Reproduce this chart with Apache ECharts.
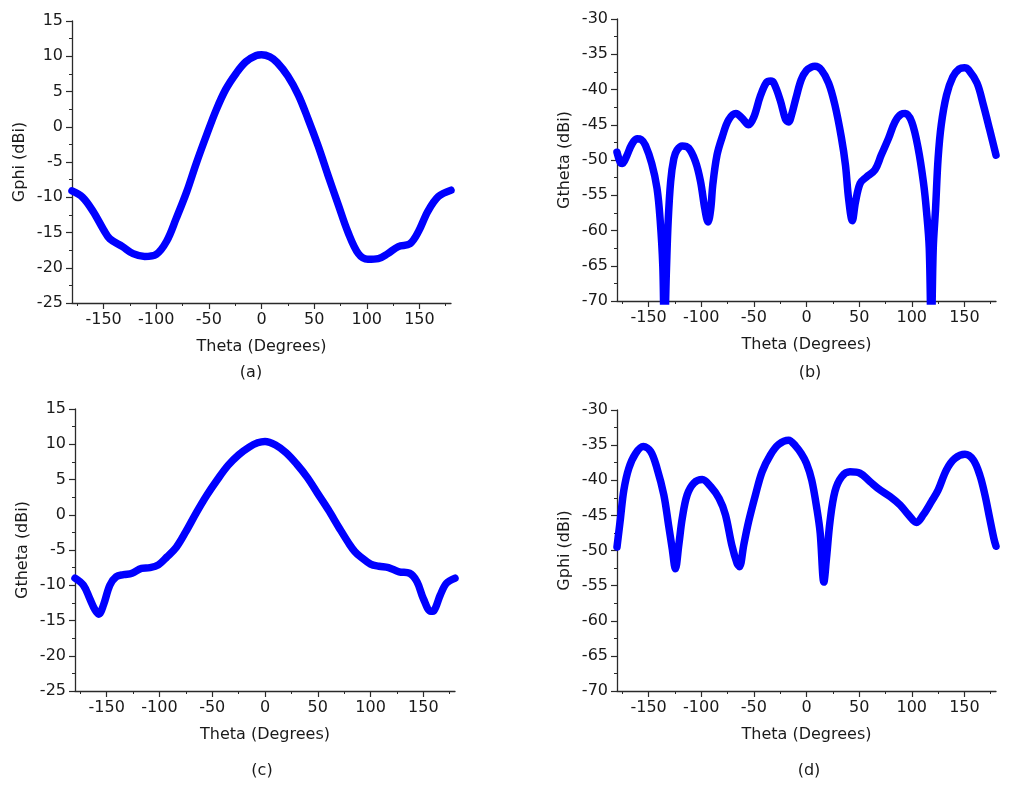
<!DOCTYPE html>
<html>
<head>
<meta charset="utf-8">
<script src="https://cdn.jsdelivr.net/npm/echarts@6/dist/echarts.min.js"></script>
<style>
html,body{margin:0;padding:0;background:#fff;}
#chart{width:1013px;height:785px;}
</style>
</head>
<body>
<div id="chart"></div>
<script>
// ---- Data ----
const xTicks = [-150, -100, -50, 0, 50, 100, 150];
const xMinorTicks = [-175, -125, -75, -25, 25, 75, 125, 175];

// (a) Gphi
const thetaA = [-180,-170,-160,-150,-144,-132,-122,-111,-100,-90,-81,-71,-62,-52,-43,-34,-24,-15,-5,0,8,15,25,35,44,54,63,73,82,92,101,111,120,130,141,149,158,168,180];
const gainA  = [-9.1,-10.0,-12.0,-14.6,-15.9,-17.0,-18.0,-18.4,-18.1,-16.2,-13.0,-9.2,-5.2,-1.1,2.4,5.3,7.6,9.2,10.1,10.2,9.9,9.1,7.2,4.5,1.2,-2.8,-6.8,-11.1,-14.9,-18.0,-18.8,-18.7,-18.0,-17.0,-16.6,-14.9,-12.0,-9.9,-9.0];

// (b) Gtheta
const thetaB = [-180,-177,-175,-171,-166,-161,-157,-153,-147,-142,-139,-136.5,-135,-133,-131.4,-129,-126,-123,-118,-112,-105.5,-100.7,-96.6,-93.5,-91,-89,-85,-80,-74,-67,-61,-55,-50,-44,-38,-34,-31,-25,-20,-17,-14,-10,-5,0,5,8,14,21,27,33,37,40,43.5,46.5,51,57,65,71,78,84,90,94,100,106,111,114,116.6,118.5,120.4,122.6,125,128,133,139,145,150,154,162,168,174,180];
const gainB  = [-48.9,-50.3,-50.5,-49.5,-47.8,-47.0,-47.1,-47.9,-50.5,-54.0,-58.5,-65.0,-75.0,-65.4,-58.7,-53.0,-49.8,-48.6,-48.0,-48.3,-50.2,-53.0,-56.9,-58.8,-57.0,-53.5,-49.3,-46.7,-44.3,-43.4,-44.1,-45.0,-43.9,-41.0,-39.0,-38.8,-39.1,-41.5,-44.2,-44.6,-43.5,-41.2,-38.6,-37.3,-36.8,-36.7,-37.2,-39.1,-42.2,-46.7,-50.7,-55.5,-58.6,-56.0,-53.3,-52.4,-51.4,-49.3,-46.9,-44.6,-43.5,-43.4,-44.6,-48.3,-53.1,-57.3,-62.5,-75.0,-62.5,-56.9,-49.8,-45.0,-40.8,-38.2,-37.1,-36.9,-37.2,-39.1,-42.2,-45.7,-49.3];

// (c) Gtheta
const thetaC = [-180,-172,-166,-161,-157.5,-153,-147,-141,-134,-126,-117,-109,-101,-93,-84,-75,-65,-55,-45,-35,-25,-15,-7,0,10,20,30,40,50,60,70,80,85,90,100,108,117,127,137,144,150,157,160,166,172,180];
const gainC  = [-9.0,-10.0,-11.9,-13.5,-14.1,-12.8,-10.0,-8.8,-8.5,-8.3,-7.6,-7.5,-7.1,-6.0,-4.6,-2.4,0.3,2.8,5.0,7.0,8.5,9.6,10.2,10.4,9.9,8.8,7.2,5.3,3.0,0.7,-1.8,-4.2,-5.2,-5.9,-7.0,-7.3,-7.5,-8.1,-8.3,-9.5,-11.9,-13.7,-13.6,-11.4,-9.7,-9.0];

// (d) Gphi
const thetaD = [-180,-176.7,-173.5,-168.8,-162.4,-155,-148,-142,-135.5,-131,-127.6,-124.5,-121.3,-118,-113.4,-107,-99,-91,-83,-77,-71,-66,-63.7,-59.6,-55,-48.5,-42.2,-34.3,-26.4,-17,-10,-5,0,5,10,13,16.5,19,22.3,27,33.4,41.3,50.8,60.3,70,79.3,88.8,96.7,104.6,111,118.8,125,133,141,150.5,158.4,164.7,169.5,174,178,180];
const gainD  = [-49.5,-45.4,-41.4,-38.3,-36.2,-35.2,-35.9,-38.3,-42.1,-46.4,-49.7,-52.6,-49.2,-45.4,-42.1,-40.4,-39.9,-40.9,-42.6,-44.9,-49.2,-51.8,-52.3,-49.2,-45.9,-42.1,-38.8,-36.4,-34.9,-34.3,-35.2,-36.2,-37.6,-40.0,-44.2,-47.5,-54.5,-51.1,-45.9,-41.6,-39.5,-38.8,-39.0,-40.2,-41.4,-42.3,-43.5,-44.9,-46.0,-44.9,-43.0,-41.4,-38.5,-36.9,-36.3,-37.1,-39.3,-42.1,-45.4,-48.3,-49.4];

const yNames = ['Gphi (dBi)', 'Gtheta (dBi)', 'Gtheta (dBi)', 'Gphi (dBi)'];
const xName = 'Theta (Degrees)';
const panelLabels = ['(a)', '(b)', '(c)', '(d)'];
const yRanges = [[-25, 15], [-70, -30], [-25, 15], [-70, -30]];

// ---- Layout / style ----
const FONT = 'DejaVu Sans';
const AX = '#2a2a2a';
const grids = [
  {left: 72, top: 21, width: 379, height: 282},
  {left: 617, top: 19, width: 379, height: 282},
  {left: 75, top: 409, width: 380, height: 282},
  {left: 617, top: 410, width: 379, height: 281}
];
const labelPos = [[251, 373], [810, 373], [262, 771], [809, 771]];

const thetas = [thetaA, thetaB, thetaC, thetaD];
const gains = [gainA, gainB, gainC, gainD];

const xAxes = [], yAxes = [], series = [], graphics = [];
const txt = {color: '#1a1a1a', fontSize: 16, fontFamily: FONT};

for (let i = 0; i < 4; i++) {
  xAxes.push({
    gridIndex: i, type: 'value', min: -180, max: 180, position: 'bottom',
    axisLine: {show: true, onZero: false, lineStyle: {color: AX, width: 1.3}},
    axisTick: {show: true, customValues: xTicks, length: 6, lineStyle: {color: AX, width: 1.2}},
    axisLabel: Object.assign({show: true, customValues: xTicks, margin: 9}, txt),
    splitLine: {show: false},
    name: xName, nameLocation: 'middle', nameGap: 36,
    nameTextStyle: txt
  });
  yAxes.push({
    gridIndex: i, type: 'value', min: yRanges[i][0], max: yRanges[i][1], interval: 5,
    axisLine: {show: true, onZero: false, lineStyle: {color: AX, width: 1.3}},
    axisTick: {show: true, length: 6, lineStyle: {color: AX, width: 1.2}},
    minorTick: {show: true, splitNumber: 2, length: 3, lineStyle: {color: AX, width: 1}},
    axisLabel: Object.assign({margin: 9}, txt),
    splitLine: {show: false},
    name: yNames[i], nameLocation: 'middle', nameGap: 44, nameRotate: 90,
    nameTextStyle: txt
  });
  series.push({
    type: 'line', xAxisIndex: i, yAxisIndex: i,
    data: thetas[i].map((t, k) => [t, gains[i][k]]),
    showSymbol: false, smooth: 0.35, clip: true,
    lineStyle: {color: '#0000FF', width: 7.5, join: 'round', cap: 'round'},
    itemStyle: {color: '#0000FF'},
    emphasis: {disabled: true}
  });
  graphics.push({
    type: 'text', x: labelPos[i][0], y: labelPos[i][1],
    style: {text: panelLabels[i], fill: '#1a1a1a', font: '16px "' + FONT + '"', align: 'center', verticalAlign: 'middle'}
  });
}
// minor ticks on x axes
for (let i = 0; i < 4; i++) {
  xAxes.push({
    gridIndex: i, type: 'value', min: -180, max: 180, position: 'bottom',
    axisLine: {show: false, onZero: false},
    axisTick: {show: true, customValues: xMinorTicks, length: 3, lineStyle: {color: AX, width: 1}},
    axisLabel: {show: false},
    splitLine: {show: false}
  });
}

const chart = echarts.init(document.getElementById('chart'), null, {renderer: 'canvas'});
chart.setOption({
  animation: false,
  backgroundColor: '#ffffff',
  grid: grids.map(g => Object.assign({containLabel: false}, g)),
  xAxis: xAxes,
  yAxis: yAxes,
  series: series,
  graphic: graphics
});
</script>
</body>
</html>
